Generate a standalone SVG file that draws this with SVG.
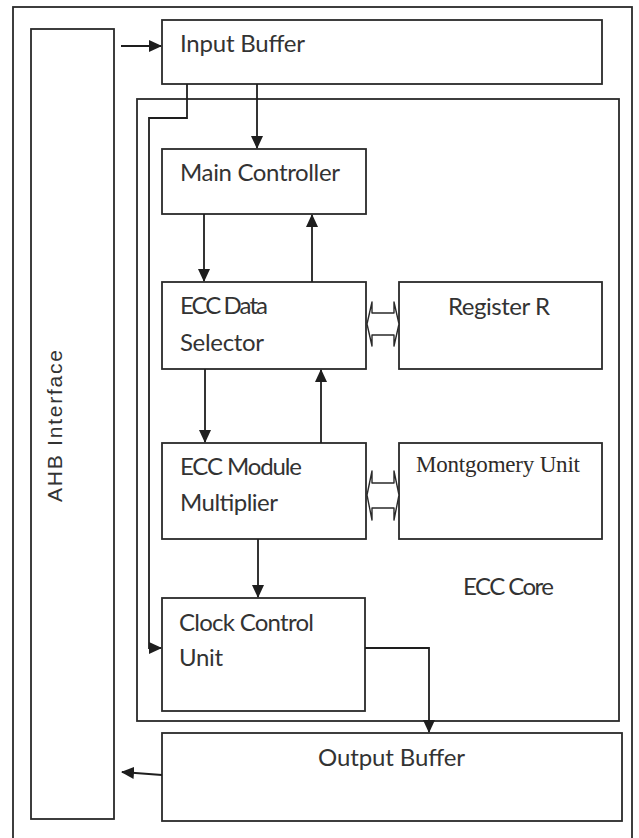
<svg xmlns="http://www.w3.org/2000/svg" width="639" height="838" viewBox="0 0 639 838">
  <defs>
    <marker id="arrow" markerUnits="userSpaceOnUse" markerWidth="13" markerHeight="13" viewBox="0 0 13 13" refX="12" refY="6.5" orient="auto">
      <path d="M0,0.5 L13,6.5 L0,12.5 Z" fill="#1e1e1e"/>
    </marker>
    <style>
      .box { fill: #fff; stroke: #2a2a2a; stroke-width: 1.8; }
      .frame { fill: none; stroke: #2a2a2a; stroke-width: 1.8; }
      .wire { fill: none; stroke: #1e1e1e; stroke-width: 1.8; }
      .dbl { fill: #fff; stroke: #2a2a2a; stroke-width: 1.4; stroke-linejoin: round; }
      .lbl { font-family: Lato, "Open Sans", "Liberation Sans", sans-serif; font-size: 24px; fill: #333; }
      .serif { font-family: "Liberation Serif", "DejaVu Serif", serif; font-size: 23px; fill: #2e2a28; }
      .ahb { font-family: "Liberation Sans", Arial, sans-serif; font-size: 21px; fill: #333; }
    </style>
  </defs>

  <rect width="639" height="838" fill="#fff"/>

  <!-- outer frame -->
  <rect class="frame" x="13" y="7" width="619" height="840"/>

  <g id="ahb-interface">
    <rect class="box" x="31" y="29" width="83" height="790"/>
    <text class="ahb" transform="translate(62,426) rotate(-90)" text-anchor="middle" textLength="152">AHB Interface</text>
  </g>

  <g id="input-buffer">
    <rect class="box" x="162" y="20" width="440" height="64"/>
    <text class="lbl" x="180" y="52" textLength="125">Input Buffer</text>
  </g>

  <g id="ecc-core">
    <rect class="box" x="137" y="99" width="482" height="622"/>
    <text class="lbl" x="463" y="595" textLength="91">ECC Core</text>
  </g>

  <g id="main-controller">
    <rect class="box" x="162" y="149" width="204" height="65"/>
    <text class="lbl" x="180" y="181" textLength="160">Main Controller</text>
  </g>

  <g id="ecc-data-selector">
    <rect class="box" x="162" y="282" width="204" height="87"/>
    <text class="lbl" x="180" y="314" textLength="88">ECC Data</text>
    <text class="lbl" x="180" y="351" textLength="84">Selector</text>
  </g>

  <g id="register-r">
    <rect class="box" x="399" y="282" width="203" height="87"/>
    <text class="lbl" x="448" y="315" textLength="102">Register R</text>
  </g>

  <g id="ecc-module-multiplier">
    <rect class="box" x="162" y="443" width="204" height="96"/>
    <text class="lbl" x="180" y="475" textLength="122">ECC Module</text>
    <text class="lbl" x="180" y="511" textLength="98">Multiplier</text>
  </g>

  <g id="montgomery-unit">
    <rect class="box" x="399" y="443" width="203" height="96"/>
    <text class="serif" x="416" y="472" textLength="164">Montgomery Unit</text>
  </g>

  <g id="clock-control-unit">
    <rect class="box" x="162" y="598" width="203" height="113"/>
    <text class="lbl" x="179" y="631" textLength="135">Clock Control</text>
    <text class="lbl" x="179" y="666" textLength="44">Unit</text>
  </g>

  <g id="output-buffer">
    <rect class="box" x="162" y="733" width="460" height="88"/>
    <text class="lbl" x="318" y="766" textLength="147">Output Buffer</text>
  </g>

  <g id="connectors">
    <path class="wire" d="M121,46 H161" marker-end="url(#arrow)"/>
    <path class="wire" d="M257,84 V148" marker-end="url(#arrow)"/>
    <path class="wire" d="M187,84 V118 H149 V648 H161" marker-end="url(#arrow)"/>
    <path class="wire" d="M204,214 V281" marker-end="url(#arrow)"/>
    <path class="wire" d="M312,282 V215" marker-end="url(#arrow)"/>
    <path class="wire" d="M205,369 V442" marker-end="url(#arrow)"/>
    <path class="wire" d="M321,443 V370" marker-end="url(#arrow)"/>
    <path class="wire" d="M258,539 V597" marker-end="url(#arrow)"/>
    <path class="wire" d="M365,648 H429 V732" marker-end="url(#arrow)"/>
    <path class="wire" d="M162,775 L122,772" marker-end="url(#arrow)"/>
    <!-- two-way block arrows -->
    <polygon class="dbl" points="367,324 372,302 372,313 394,313 394,302 399,324 394,346 394,335 372,335 372,346"/>
    <polygon class="dbl" points="367,495 372,471 372,483 394,483 394,471 399,495 394,520 394,508 372,508 372,520"/>
  </g>
</svg>
